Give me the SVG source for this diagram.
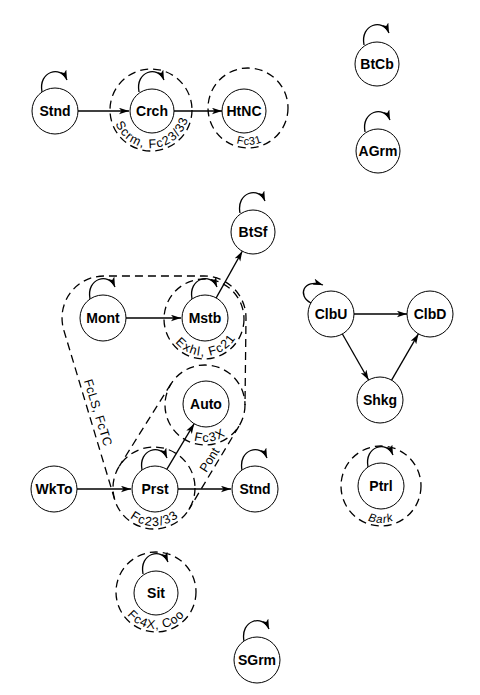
<svg xmlns="http://www.w3.org/2000/svg" width="480" height="695" viewBox="0 0 480 695">
<style>
.node circle{fill:#fff;stroke:#000;stroke-width:1}
.node text{font-family:"Liberation Sans",Arial,sans-serif;font-size:14px;font-weight:bold;text-anchor:middle;fill:#000}
.loop{fill:none;stroke:#000;stroke-width:1.3;marker-end:url(#ah)}
.edge{fill:none;stroke:#000;stroke-width:1.3;marker-end:url(#ah)}
.dash{fill:none;stroke:#000;stroke-width:1.3;stroke-dasharray:8 5}
.lbl{font-family:"Liberation Sans",Arial,sans-serif;font-size:12.5px;fill:#000;letter-spacing:1.2px}
</style>
<defs>
<marker id="ah" markerUnits="userSpaceOnUse" markerWidth="11" markerHeight="8" refX="10" refY="3.25" orient="auto">
<path d="M0,0 L10,3.25 L0,6.5 L2.5,3.25 z" fill="#000"/>
</marker>
<path id="pCrch" d="M115.3,97 A38 38 0 1 0 186.7,97"/>
<path id="pHtNC" d="M213.2,95.3 A37 37 0 1 0 282.8,95.3"/>
<path id="pMstb" d="M169.2,306.3 A37 37 0 1 0 238.8,306.3"/>
<path id="pAuto" d="M170.2,392.3 A37 37 0 1 0 239.8,392.3"/>
<path id="pPrst" d="M118.3,475 A38 38 0 1 0 189.7,475"/>
<path id="pSit" d="M121.2,579.3 A37 37 0 1 0 190.8,579.3"/>
<path id="pPtrl" d="M346.2,473.3 A37 37 0 1 0 415.8,473.3"/>
</defs>
<rect width="480" height="695" fill="#fff"/>

<g id="regions">
<circle class="dash" cx="151" cy="110" r="41"/>
<circle class="dash" cx="248" cy="108" r="40"/>
<circle class="dash" cx="204" cy="319" r="40"/>
<circle class="dash" cx="205" cy="405" r="40"/>
<circle class="dash" cx="154" cy="488" r="41"/>
<circle class="dash" cx="156" cy="592" r="40"/>
<circle class="dash" cx="381" cy="486" r="40"/>
<path class="dash" d="M114.7,499.6 L63.7,329.8 A42 42 0 0 1 104,276 L204,276 A42 42 0 0 1 246,318 L245,405"/>
<path class="dash" d="M239,426.1 L188.8,509.6"/>
<path class="dash" d="M171,383.9 L119.2,466.4"/>
<text class="lbl"><textPath href="#pCrch" startOffset="52%" text-anchor="middle">Scrm, Fc23/33</textPath></text>
<text class="lbl" style="font-size:11px;letter-spacing:0.5px"><textPath href="#pHtNC" startOffset="51%" text-anchor="middle">Fc31</textPath></text>
<text class="lbl"><textPath href="#pMstb" startOffset="52%" text-anchor="middle">Exhl, Fc21</textPath></text>
<text class="lbl"><textPath href="#pAuto" startOffset="54%" text-anchor="middle">Fc3X</textPath></text>
<text class="lbl"><textPath href="#pPrst" startOffset="50.5%" text-anchor="middle">Fc23/33</textPath></text>
<text class="lbl" style="letter-spacing:0.8px"><textPath href="#pSit" startOffset="50%" text-anchor="middle">Fc4X, Coo</textPath></text>
<text class="lbl" style="font-size:11.5px;letter-spacing:0.8px;font-style:italic"><textPath href="#pPtrl" startOffset="50%" text-anchor="middle">Bark</textPath></text>
<text class="lbl" style="letter-spacing:0.3px" text-anchor="middle" transform="translate(94,414) rotate(72.7)">FcLS, FcTC</text>
<text class="lbl" style="letter-spacing:0px" text-anchor="middle" transform="translate(213,462) rotate(-58)">Pont</text>
</g>

<g id="connectors">
<line class="edge" x1="78" y1="111" x2="129" y2="111"/>
<line class="edge" x1="174" y1="111" x2="222" y2="111"/>
<line class="edge" x1="126" y1="318" x2="181" y2="318"/>
<line class="edge" x1="216.2" y1="297.9" x2="242.3" y2="251.2"/>
<line class="edge" x1="77" y1="489" x2="131" y2="489"/>
<line class="edge" x1="178" y1="489" x2="231" y2="489"/>
<line class="edge" x1="166.8" y1="469.3" x2="194.2" y2="423.7"/>
<line class="edge" x1="354" y1="314" x2="407" y2="314"/>
<line class="edge" x1="342.4" y1="334" x2="368.6" y2="380"/>
<line class="edge" x1="391.6" y1="380.1" x2="418.4" y2="333.9"/>
<path class="loop" d="M42,92 C38,71 61,65 67,80"/>
<path class="loop" d="M139,92 C135,71 158,65 164,80"/>
<path class="loop" d="M364,45 C360,24 383,18 389,33"/>
<path class="loop" d="M365,132 C361,111 384,105 390,120"/>
<path class="loop" d="M240,213 C236,192 259,186 265,201"/>
<path class="loop" d="M90,299 C86,278 109,272 115,287"/>
<path class="loop" d="M192,299 C188,278 211,272 217,287"/>
<path class="loop" d="M142,470 C138,449 161,443 167,458"/>
<path class="loop" d="M242,470 C238,449 261,443 267,458"/>
<path class="loop" d="M368,467 C364,446 387,440 393,455"/>
<path class="loop" d="M143,574 C139,553 162,547 168,562"/>
<path class="loop" d="M244,641 C240,620 263,614 269,629"/>
<path class="loop" d="M311,303 C297,296 303,278 323,285"/>
</g>

<g id="n-Stnd1" class="node"><circle cx="55" cy="111" r="23"/><text x="55" y="116">Stnd</text></g>
<g id="n-Crch" class="node"><circle cx="152" cy="111" r="22"/><text x="152" y="116">Crch</text></g>
<g id="n-HtNC" class="node"><circle cx="244" cy="111" r="22"/><text x="244" y="116">HtNC</text></g>
<g id="n-BtCb" class="node"><circle cx="377" cy="64" r="22"/><text x="377" y="69">BtCb</text></g>
<g id="n-AGrm" class="node"><circle cx="378" cy="151" r="22"/><text x="378" y="156">AGrm</text></g>
<g id="n-BtSf" class="node"><circle cx="253" cy="232" r="22"/><text x="253" y="237">BtSf</text></g>
<g id="n-Mont" class="node"><circle cx="103" cy="318" r="23"/><text x="103" y="323">Mont</text></g>
<g id="n-Mstb" class="node"><circle cx="205" cy="318" r="23"/><text x="205" y="323">Mstb</text></g>
<g id="n-Auto" class="node"><circle cx="206" cy="404" r="23"/><text x="206" y="409">Auto</text></g>
<g id="n-WkTo" class="node"><circle cx="54" cy="489" r="23"/><text x="54" y="494">WkTo</text></g>
<g id="n-Prst" class="node"><circle cx="155" cy="489" r="23"/><text x="155" y="494">Prst</text></g>
<g id="n-Stnd2" class="node"><circle cx="255" cy="489" r="23"/><text x="255" y="494">Stnd</text></g>
<g id="n-ClbU" class="node"><circle cx="331" cy="314" r="23"/><text x="331" y="319">ClbU</text></g>
<g id="n-ClbD" class="node"><circle cx="430" cy="314" r="23"/><text x="430" y="319">ClbD</text></g>
<g id="n-Shkg" class="node"><circle cx="380" cy="400" r="23"/><text x="380" y="405">Shkg</text></g>
<g id="n-Ptrl" class="node"><circle cx="381" cy="486" r="23"/><text x="381" y="491">Ptrl</text></g>
<g id="n-Sit" class="node"><circle cx="156" cy="593" r="22"/><text x="156" y="598">Sit</text></g>
<g id="n-SGrm" class="node"><circle cx="257" cy="660" r="23"/><text x="257" y="665">SGrm</text></g>
</svg>
